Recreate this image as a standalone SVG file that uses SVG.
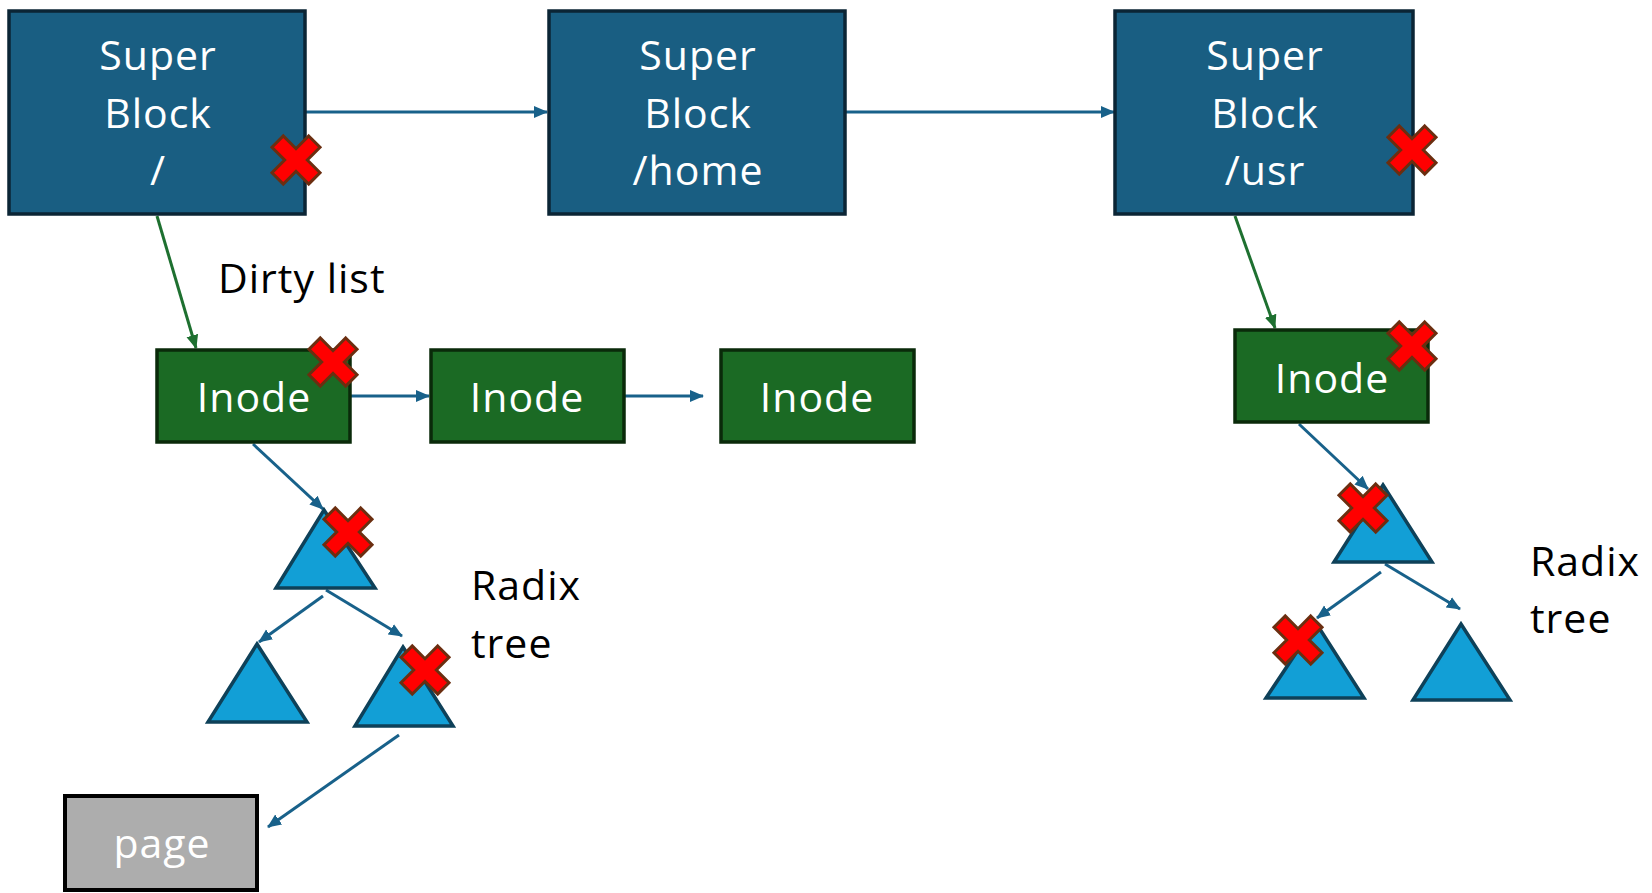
<svg xmlns="http://www.w3.org/2000/svg" width="1652" height="893" viewBox="0 0 1652 893">
<style>
.sb{fill:#195e82;stroke:#0b2535;stroke-width:3.5}
.in{fill:#1b6a24;stroke:#0a2a0a;stroke-width:3.5}
.tri{fill:#129fd6;stroke:#0e4159;stroke-width:3.5;stroke-linejoin:miter}
.pg{fill:#adadad;stroke:#000;stroke-width:4}
.wt{fill:#fff;font-family:"Open Sans","Noto Sans",sans-serif;font-size:41px;text-anchor:middle;letter-spacing:1px}
.bt{fill:#000;font-family:"Open Sans","Noto Sans",sans-serif;font-size:41px;letter-spacing:1px}
.cb{stroke:#18618a;stroke-width:3;fill:none;marker-end:url(#ab)}
.cg{stroke:#1e7030;stroke-width:3;fill:none;marker-end:url(#ag)}
.x{fill:#ff0000;stroke:#6b2e10;stroke-width:3;stroke-linejoin:miter}
</style>
<defs>
<marker id="ab" markerUnits="userSpaceOnUse" markerWidth="16" markerHeight="14" refX="13" refY="7" orient="auto"><path d="M0,1 L14,7 L0,13 Z" fill="#18618a"/></marker>
<marker id="ag" markerUnits="userSpaceOnUse" markerWidth="16" markerHeight="14" refX="13" refY="7" orient="auto"><path d="M0,1 L14,7 L0,13 Z" fill="#1e7030"/></marker>
<polygon id="xm" class="x" transform="rotate(45)" points="-8,-26 8,-26 8,-8 26,-8 26,8 8,8 8,26 -8,26 -8,8 -26,8 -26,-8 -8,-8"/>
</defs>
<rect width="1652" height="893" fill="#fff"/>
<g id="connectors">
<line class="cb" x1="306" y1="112" x2="547" y2="112"/>
<line class="cb" x1="845" y1="112" x2="1114" y2="112"/>
<line class="cg" x1="157" y1="216" x2="196" y2="348"/>
<line class="cg" x1="1235" y1="216" x2="1275" y2="328"/>
<line class="cb" x1="351" y1="396" x2="429" y2="396"/>
<line class="cb" x1="624" y1="396" x2="703" y2="396"/>
<line class="cb" x1="253" y1="444" x2="323" y2="509"/>
<line class="cb" x1="323" y1="596" x2="259" y2="642"/>
<line class="cb" x1="326" y1="590" x2="402" y2="636"/>
<line class="cb" x1="399" y1="735" x2="268" y2="827"/>
<line class="cb" x1="1299" y1="424" x2="1368" y2="489"/>
<line class="cb" x1="1381" y1="572" x2="1317" y2="618"/>
<line class="cb" x1="1385" y1="564" x2="1460" y2="609"/>
</g>
<g id="sb1"><rect class="sb" x="9" y="11" width="296" height="203"/><text class="wt" x="158" y="70">Super</text><text class="wt" x="158" y="128">Block</text><text class="wt" x="158" y="185">/</text></g>
<g id="sb2"><rect class="sb" x="549" y="11" width="296" height="203"/><text class="wt" x="698" y="70">Super</text><text class="wt" x="698" y="128">Block</text><text class="wt" x="698" y="185">/home</text></g>
<g id="sb3"><rect class="sb" x="1115" y="11" width="298" height="203"/><text class="wt" x="1265" y="70">Super</text><text class="wt" x="1265" y="128">Block</text><text class="wt" x="1265" y="185">/usr</text></g>
<g id="inode1"><rect class="in" x="157" y="350" width="193" height="92"/><text class="wt" x="254" y="412">Inode</text></g>
<g id="inode2"><rect class="in" x="431" y="350" width="193" height="92"/><text class="wt" x="527" y="412">Inode</text></g>
<g id="inode3"><rect class="in" x="721" y="350" width="193" height="92"/><text class="wt" x="817" y="412">Inode</text></g>
<g id="inode4"><rect class="in" x="1235" y="330" width="193" height="92"/><text class="wt" x="1332" y="393">Inode</text></g>
<g id="t1"><polygon class="tri" points="324,510 375,588 276,588"/></g>
<g id="t2"><polygon class="tri" points="257,644 307,722 208,722"/></g>
<g id="t3"><polygon class="tri" points="403,647 453,726 355,726"/></g>
<g id="t4"><polygon class="tri" points="1383,485 1432,562 1334,562"/></g>
<g id="t5"><polygon class="tri" points="1316,623 1364,698 1266,698"/></g>
<g id="t6"><polygon class="tri" points="1461,624 1510,700 1413,700"/></g>
<g id="page"><rect class="pg" x="65" y="796" width="192" height="94"/><text class="wt" x="162" y="858">page</text></g>
<g id="labels">
<text class="bt" x="218" y="293">Dirty list</text>
<text class="bt" x="471" y="600">Radix</text>
<text class="bt" x="471" y="658">tree</text>
<text class="bt" x="1530" y="576">Radix</text>
<text class="bt" x="1530" y="633">tree</text>
</g>
<g id="marks">
<use href="#xm" transform="translate(296,160)"/>
<use href="#xm" transform="translate(1412,150)"/>
<use href="#xm" transform="translate(333,362)"/>
<use href="#xm" transform="translate(1412,346)"/>
<use href="#xm" transform="translate(348,532)"/>
<use href="#xm" transform="translate(425,670)"/>
<use href="#xm" transform="translate(1363,508)"/>
<use href="#xm" transform="translate(1298,640)"/>
</g>
</svg>
